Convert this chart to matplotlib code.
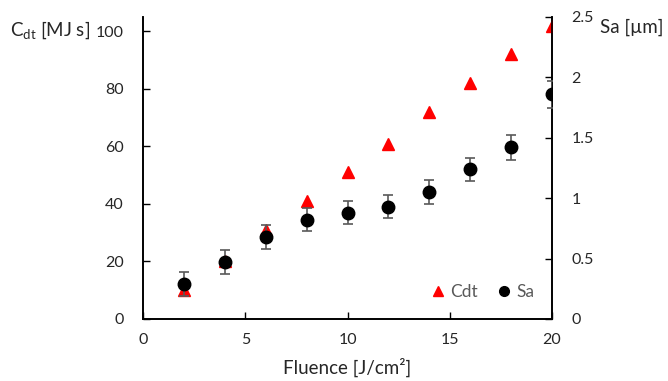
import matplotlib
matplotlib.use("Agg")
import matplotlib.pyplot as plt
from matplotlib.lines import Line2D

plt.rcParams['font.family'] = ['Lato', 'DejaVu Sans']

fluence = [2, 4, 6, 8, 10, 12, 14, 16, 18, 20]
cdt = [10, 20, 31, 41, 51, 61, 72, 82, 92, 102]
sa = [0.29, 0.47, 0.68, 0.82, 0.88, 0.93, 1.05, 1.24, 1.42, 1.86]
sa_err = [0.1, 0.1, 0.1, 0.095, 0.095, 0.095, 0.1, 0.095, 0.1, 0.11]
x_ticks = [0, 5, 10, 15, 20]
left_ticks = [0, 20, 40, 60, 80, 100]
right_ticks = [0, 0.5, 1, 1.5, 2, 2.5]
right_labels = ['0', '0.5', '1', '1.5', '2', '2.5']

W, H = 668, 381
fig = plt.figure(figsize=(W / 100, H / 100), dpi=100)
ax = fig.add_axes([143 / W, 1 - 319 / H, (552 - 143) / W, (319 - 17) / H])
ax2 = ax.twinx()

txt = '#262626'
gray = '#595959'
fs = 11.5
lfs = 13.5

ax.plot(fluence, cdt, linestyle='none', marker='^', color='#ff0000', markersize=8.5, zorder=3)
ax2.errorbar(fluence, sa, yerr=sa_err, linestyle='none', marker='o', color='black',
             markersize=9, ecolor=gray, elinewidth=1.2, capsize=3.5, capthick=1.2, zorder=4)

ax.set_xlim(0, 20)
ax.set_ylim(0, 105)
ax2.set_ylim(0, 2.5)
ax.set_xticks(x_ticks)
ax.set_yticks(left_ticks)
ax2.set_yticks(right_ticks)
ax2.set_yticklabels(right_labels)

for a in (ax, ax2):
    a.spines['top'].set_visible(False)
    for s in a.spines.values():
        s.set_color('black')
        s.set_linewidth(1.2)
ax.tick_params(axis='x', direction='in', length=5, width=1, pad=10, labelsize=fs, labelcolor=txt)
ax.tick_params(axis='y', direction='in', length=5, width=1, pad=14, labelsize=fs, labelcolor=txt)
ax2.tick_params(axis='y', direction='in', length=5, width=1, pad=14, labelsize=fs, labelcolor=txt)

ax.set_xlabel('Fluence [J/cm²]', fontsize=lfs, color=txt, labelpad=8)
fig.text(10 / W, 1 - 30 / H, r'C$_{\mathregular{dt}}$ [MJ s]', fontsize=lfs, color=txt, ha='left', va='center')
fig.text(600 / W, 1 - 27 / H, 'Sa [µm]', fontsize=lfs, color=txt, ha='left', va='center')

handles = [Line2D([], [], linestyle='none', marker='^', color='#ff0000', markersize=7),
           Line2D([], [], linestyle='none', marker='o', color='black', markersize=7)]
leg = ax.legend(handles, ['Cdt', 'Sa'], loc='lower right', bbox_to_anchor=(0.995, 0.01), ncol=2,
                frameon=False, fontsize=12.5, handletextpad=0.2, columnspacing=1.0,
                handlelength=1.0)
for t in leg.get_texts():
    t.set_color(gray)

fig.savefig('out.png', dpi=100)
